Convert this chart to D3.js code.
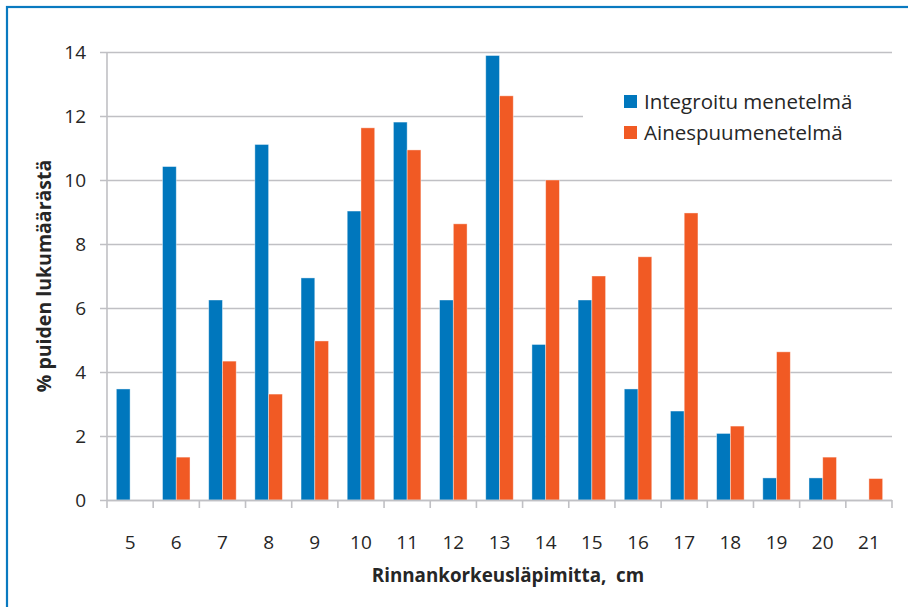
<!DOCTYPE html>
<html>
<head>
<meta charset="utf-8">
<script src="https://cdn.jsdelivr.net/npm/d3@7"></script>
<style>
  html, body { margin: 0; padding: 0; background: #fff; }
  svg { display: block; font-family: "Open Sans", Lato, sans-serif; }
</style>
</head>
<body>
<svg id="chart" width="908" height="607"></svg>
<script>
// Diameter classes (cm)
const categories = ["5","6","7","8","9","10","11","12","13","14","15","16","17","18","19","20","21"];
// % of tree count per diameter class
const integroitu = [3.47,10.42,6.25,11.11,6.94,9.03,11.81,6.25,13.89,4.86,6.25,3.47,2.78,2.08,0.69,0.69,0];
const ainespuu   = [0,1.34,4.34,3.31,4.97,11.63,10.94,8.63,12.63,10.0,7.0,7.6,8.97,2.31,4.63,1.34,0.67];
const seriesNames = ["Integroitu menetelmä", "Ainespuumenetelmä"];
const seriesColors = ["#0077bd", "#f15a24"];
const yTicks = [0,2,4,6,8,10,12,14];

const svg = d3.select("#chart");

// Outer frame
svg.append("rect")
  .attr("x", 7).attr("y", 7)
  .attr("width", 920).attr("height", 620)
  .attr("fill", "none").attr("stroke", "#0a7ac0").attr("stroke-width", 2.2);

const plot = { left: 107, right: 892, top: 52, bottom: 500 };

const x = d3.scaleBand().domain(categories).range([plot.left, plot.right]).padding(0);
const bandW = x.bandwidth();
const groupW = 27.5;
const xs = d3.scaleBand().domain([0, 1]).range([(bandW - groupW) / 2, (bandW + groupW) / 2]).padding(0);
const y = d3.scaleLinear().domain([0, 14]).range([plot.bottom, plot.top]);

const gridColor = "#c0c0c4";
const textColor = "#262626";

// Horizontal gridlines with tick stubs on the left
svg.append("g")
  .selectAll("line")
  .data(yTicks)
  .join("line")
  .attr("x1", plot.left - 7).attr("x2", plot.right)
  .attr("y1", d => Math.round(y(d)) + 0.5).attr("y2", d => Math.round(y(d)) + 0.5)
  .attr("stroke", gridColor).attr("stroke-width", 1.6);

// Y axis line
svg.append("line")
  .attr("x1", plot.left).attr("x2", plot.left)
  .attr("y1", plot.top).attr("y2", plot.bottom)
  .attr("stroke", gridColor).attr("stroke-width", 1.6);

// Y tick labels
svg.append("g")
  .selectAll("text")
  .data(yTicks)
  .join("text")
  .attr("x", 86).attr("y", d => y(d))
  .attr("dy", "0.36em")
  .attr("text-anchor", "end")
  .attr("font-size", 19)
  .attr("fill", textColor)
  .text(d => d);

// Bars
const seriesData = [integroitu, ainespuu];
seriesData.forEach((vals, si) => {
  svg.append("g")
    .selectAll("rect")
    .data(vals.map((v, i) => ({ c: categories[i], v })))
    .join("rect")
    .attr("x", d => x(d.c) + xs(si))
    .attr("width", xs.bandwidth())
    .attr("y", d => y(d.v))
    .attr("height", d => y(0) - y(d.v))
    .attr("fill", seriesColors[si])
    .attr("stroke", "#ffffff").attr("stroke-opacity", 0.5).attr("stroke-width", 0.8);
});

// X axis line and ticks between categories
svg.append("line")
  .attr("x1", plot.left).attr("x2", plot.right)
  .attr("y1", plot.bottom + 0.5).attr("y2", plot.bottom + 0.5)
  .attr("stroke", gridColor).attr("stroke-width", 1.6);
const tickPos = categories.map(c => x(c)).concat([plot.right]);
svg.append("g")
  .selectAll("line")
  .data(tickPos)
  .join("line")
  .attr("x1", d => d).attr("x2", d => d)
  .attr("y1", plot.bottom).attr("y2", plot.bottom + 8)
  .attr("stroke", gridColor).attr("stroke-width", 1.6);

// X tick labels
svg.append("g")
  .selectAll("text")
  .data(categories)
  .join("text")
  .attr("x", d => x(d) + bandW / 2)
  .attr("y", 549)
  .attr("text-anchor", "middle")
  .attr("font-size", 19)
  .attr("fill", textColor)
  .text(d => d);

// Axis titles
svg.append("text")
  .attr("x", 508).attr("y", 582)
  .attr("text-anchor", "middle")
  .attr("font-size", 18.8).attr("font-weight", "bold")
  .attr("fill", textColor)
  .attr("xml:space", "preserve")
  .text("Rinnankorkeusläpimitta,  cm");

svg.append("text")
  .attr("transform", "translate(51,276) rotate(-90)")
  .attr("text-anchor", "middle")
  .attr("font-size", 19.5).attr("font-weight", "bold")
  .attr("fill", textColor)
  .text("% puiden lukumäärästä");

// Legend
const legend = svg.append("g");
legend.append("rect")
  .attr("x", 583).attr("y", 72).attr("width", 312).attr("height", 98)
  .attr("fill", "#ffffff");
seriesNames.forEach((name, i) => {
  const ly = 102 + i * 31;
  legend.append("rect")
    .attr("x", 624).attr("y", ly - 7).attr("width", 13).attr("height", 13)
    .attr("fill", seriesColors[i]);
  legend.append("text")
    .attr("x", 644).attr("y", ly).attr("dy", "0.36em")
    .attr("font-size", 20.5)
    .attr("fill", textColor)
    .text(name);
});
</script>
</body>
</html>
